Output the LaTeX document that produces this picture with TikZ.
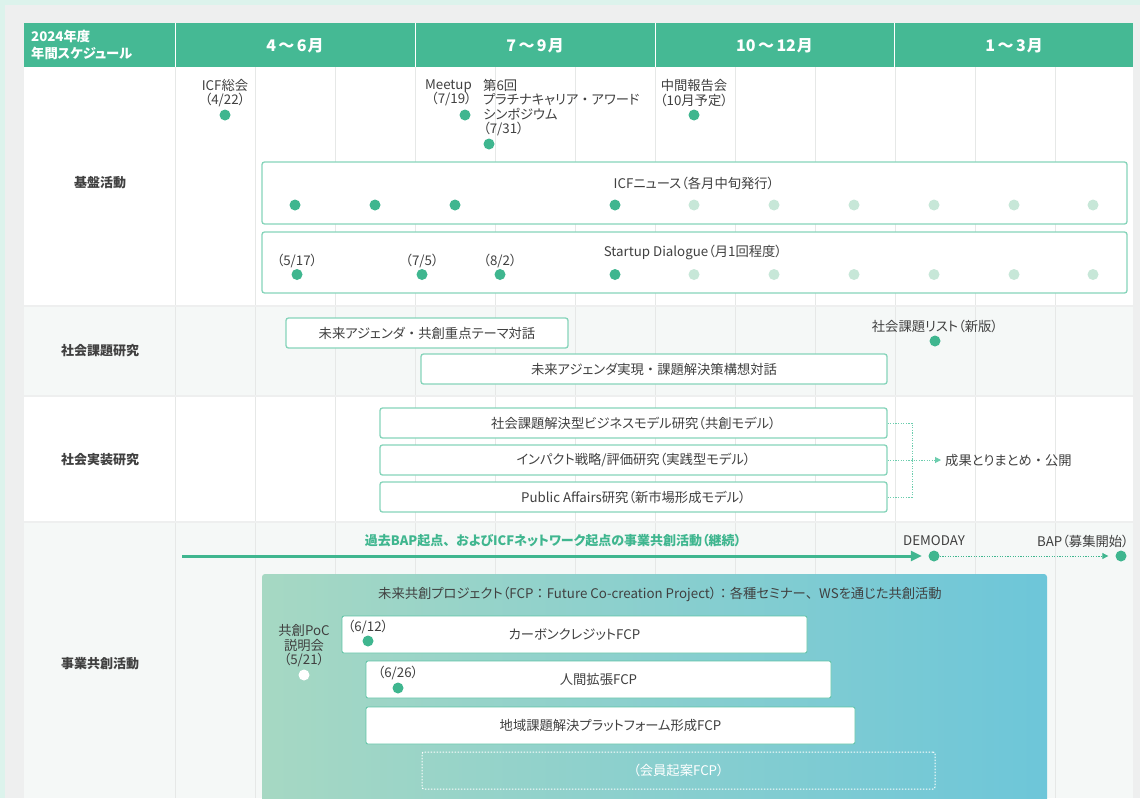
\documentclass[tikz,border=0pt]{standalone}
\usepackage{fontspec}
\setmainfont{Noto Sans CJK JP}[RawFeature=+palt]
\newfontfamily\fullwfont{Noto Sans CJK JP}
\newcommand{\fullw}[1]{{\fullwfont #1}}
\usetikzlibrary{arrows.meta}
\definecolor{mintbg}{HTML}{DCF3EC}
\definecolor{graybg}{HTML}{EEEFEF}
\definecolor{hdr}{HTML}{45B994}
\definecolor{rowlt}{HTML}{F5F8F7}
\definecolor{gridc}{HTML}{E6E8E7}
\definecolor{dotg}{HTML}{3FB68F}
\definecolor{dotl}{HTML}{C7E7D8}
\definecolor{bxline}{HTML}{86D4BA}
\definecolor{tgray}{HTML}{404040}
\definecolor{gradl}{HTML}{A6D8C3}
\definecolor{gradr}{HTML}{6DC6D9}
\definecolor{fcpline}{HTML}{5EC3A5}
\definecolor{conng}{HTML}{6CCDAE}
\begin{document}
\begin{tikzpicture}[x=1pt,y=-1pt,
  every node/.style={font=\fontsize{13.3}{14.6}\selectfont, text=tgray, inner sep=0pt},
  lbl/.style={font=\fontsize{13}{15}\selectfont\bfseries, text=tgray},
  hd/.style={font=\fontsize{16}{18}\selectfont\bfseries, text=white},
  hdl/.style={font=\fontsize{13.3}{17}\selectfont\bfseries, text=white, align=left, anchor=west},
  dotd/.style={circle, fill=dotg, minimum size=11pt, inner sep=0pt},
  dotlt/.style={circle, fill=dotl, minimum size=11pt, inner sep=0pt},
  dotw/.style={circle, fill=white, minimum size=11pt, inner sep=0pt},
  bigbox/.style={draw=bxline, line width=1.3pt, rounded corners=2.5pt, fill=white},
  bar/.style={draw=bxline, line width=1.3pt, rounded corners=2.5pt, fill=white, minimum height=30pt},
  fcpbar/.style={draw=fcpline, line width=0.8pt, rounded corners=2pt, fill=white, minimum height=37pt},
  dotline/.style={draw=conng, line width=1pt, dash pattern=on 1.2pt off 1.4pt},
  gridline/.style={draw=gridc, line width=0.8pt},
]
\useasboundingbox (0,0) rectangle (1140,798);
\clip (0,0) rectangle (1140,798);
% backgrounds
\fill[mintbg] (0,0) rectangle (1140,798);
\fill[graybg] (5,5) rectangle (1140,798);
\fill[hdr] (24,23) rectangle (1133,67);
\fill[white] (24,67) rectangle (1133,305);
\fill[rowlt] (24,307) rectangle (1133,395);
\fill[white] (24,397) rectangle (1133,521);
\fill[rowlt] (24,523) rectangle (1133,798);
% header dividers
\foreach \x in {175,415,655,894} \draw[white, line width=1pt] (\x,23) -- (\x,67);
% grid
\foreach \x in {175,255,...,1055} {
  \draw[gridline] (\x,67) -- (\x,305);
  \draw[gridline] (\x,307) -- (\x,395);
  \draw[gridline] (\x,397) -- (\x,521);
  \draw[gridline] (\x,523) -- (\x,798);
}
% header texts
\node[hdl] (hy1) at (31,36) {2024年度};
\node[hdl] (hy2) at (31,53) {年間スケジュール};
\node[hd] (m1) at (295,46) {4\kern2.5pt\fullw{～}\kern2.5pt6\kern1pt月};
\node[hd] (m2) at (535,46) {7\kern2.5pt\fullw{～}\kern2.5pt9\kern1pt月};
\node[hd] (m3) at (774.5,46) {10\kern2.5pt\fullw{～}\kern2.5pt12\kern1pt月};
\node[hd] (m4) at (1014,46) {1\kern2.5pt\fullw{～}\kern2.5pt3\kern1pt月};
% row labels
\node[lbl] (l1) at (100,183) {基盤活動};
\node[lbl] (l2) at (100,351) {社会課題研究};
\node[lbl] (l3) at (100,460) {社会実装研究};
\node[lbl] (l4) at (100,664) {事業共創活動};
% row 1 events
\node[align=center] (icfs) at (225,93) {ICF総会\\（4/22）};
\node[dotd] (dicfs) at (225,115) {};
\node[align=right, anchor=east] (meet) at (472,93) {Meetup\\（7/19）};
\node[dotd] (dmeet) at (465,115) {};
\node[align=left, anchor=west] (plat) at (483,107.5) {第6回\\プラチナキャリア\fullw{・}アワード\\シンポジウム\\（7/31）};
\node[dotd] (dplat) at (489,144) {};
\node[align=center] (mid) at (694,93) {中間報告会\\（10月予定）};
\node[dotd] (dmid) at (694,115) {};
% ICF news
\node[bigbox, minimum width=865pt, minimum height=62pt] (news) at (694.5,193) {};
\node (newst) at (694,183) {ICFニュース（各月中旬発行）};
\foreach \x/\n in {295/1,375/2,455/3,615/4} \node[dotd] (nd\n) at (\x,205) {};
\foreach \x/\n in {694/5,774/6,854/7,934/8,1014/9,1093/10} \node[dotlt] (nd\n) at (\x,205) {};
% Startup dialogue
\node[bigbox, minimum width=865pt, minimum height=61pt] (sd) at (694.5,262.5) {};
\node (sdt) at (693,252) {Startup Dialogue（月1回程度）};
\node (sdl1) at (297,261) {（5/17）};
\node (sdl2) at (422,261) {（7/5）};
\node (sdl3) at (500,261) {（8/2）};
\foreach \x/\n in {297/1,422/2,500/3,615/4} \node[dotd] (sdd\n) at (\x,274.5) {};
\foreach \x/\n in {694/5,774/6,854/7,934/8,1014/9,1093/10} \node[dotlt] (sdd\n) at (\x,274.5) {};
% row 2
\node[bar, minimum width=282pt] (ag1) at (427,333) {未来アジェンダ\fullw{・}共創重点テーマ対話};
\node[bar, minimum width=466pt] (ag2) at (654,369) {未来アジェンダ実現\fullw{・}課題解決策構想対話};
\node (list) at (935,326) {社会課題リスト（新版）};
\node[dotd] (dlist) at (935,341) {};
% row 3
\node[bar, minimum width=507pt] (r3a) at (633.5,423) {社会課題解決型ビジネスモデル研究（共創モデル）};
\node[bar, minimum width=507pt] (r3b) at (633.5,460) {インパクト戦略/評価研究（実践型モデル）};
\node[bar, minimum width=507pt] (r3c) at (633.5,497) {Public Affairs研究（新市場形成モデル）};
\coordinate (jn) at (912,460);
\node[anchor=west] (res) at (945,460) {成果とりまとめ\fullw{・}公開};
\draw[dotline] (r3a.east) -| (jn);
\draw[dotline] (r3c.east) -| (jn);
\draw[dotline, -{Triangle[length=6pt,width=6pt]}, shorten >=4pt] (r3b.east) -- (res.west);
% row 4
\node[font=\fontsize{13}{15}\selectfont\bfseries, text=dotg] (bapt) at (553,541) {過去BAP起点\fullw{、}およびICFネットワーク起点の事業共創活動（継続）};
\coordinate (a0) at (182,556);
\node[dotd] (demo) at (934,556) {};
\node (demot) at (934,541) {DEMODAY};
\node[dotd] (bap) at (1121,556) {};
\node[anchor=east] (bapl) at (1129,541) {BAP（募集開始）};
\draw[draw=dotg, line width=3pt, -{Triangle[length=11pt,width=10pt]}, shorten >=6.5pt] (a0) -- (demo);
\draw[dotline, draw=dotg, -{Triangle[length=6pt,width=6pt]}, shorten >=7pt] (demo) -- (bap);
% FCP area
\shade[left color=gradl, right color=gradr, rounded corners=3pt] (262,574) rectangle (1047,810);
\node (fcpt) at (660,594) {未来共創プロジェクト（FCP\fullw{：}Future Co-creation Project）\fullw{：}各種セミナー\fullw{、}WSを通じた共創活動};
\node[align=center] (poc) at (304,646) {共創PoC\\説明会\\（5/21）};
\node[dotw] (dpoc) at (304,675) {};
\node[fcpbar, minimum width=465pt] (cc) at (574.5,634.5) {カーボンクレジットFCP};
\node (ccl) at (368,627) {（6/12）};
\node[dotd] (dcc) at (368,641) {};
\node[fcpbar, minimum width=465pt] (he) at (598.5,679.5) {人間拡張FCP};
\node (hel) at (398,673) {（6/26）};
\node[dotd] (dhe) at (398,688) {};
\node[fcpbar, minimum width=489pt] (rg) at (610.5,725.5) {地域課題解決プラットフォーム形成FCP};
\node[draw=white, line width=1pt, dash pattern=on 1.5pt off 1.5pt, rounded corners=2pt, minimum width=513pt, minimum height=37pt, text=white] (mem) at (678.5,770.5) {（会員起案FCP）};
\end{tikzpicture}
\end{document}
